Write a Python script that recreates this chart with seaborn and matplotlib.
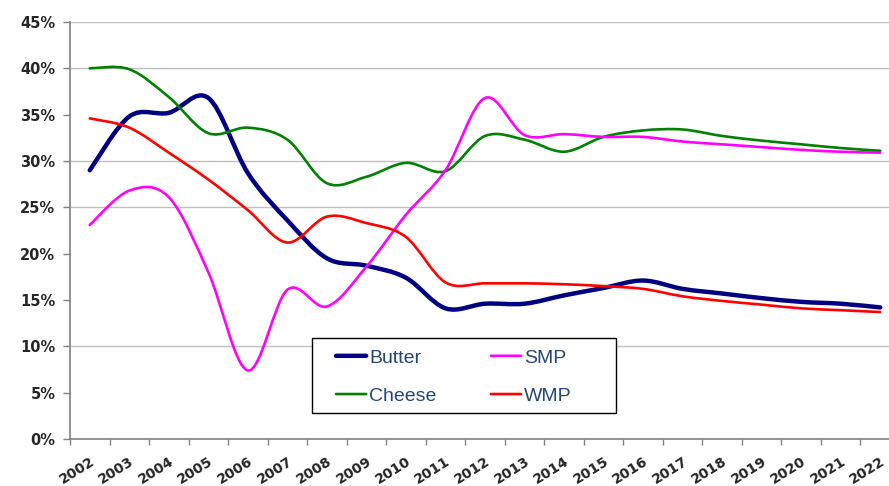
import numpy as np
import pandas as pd
import matplotlib
matplotlib.use("Agg")
import matplotlib.pyplot as plt
import seaborn as sns
from matplotlib.path import Path
from matplotlib.patches import Rectangle
from matplotlib.patheffects import AbstractPathEffect
from matplotlib.transforms import IdentityTransform
from matplotlib.ticker import FuncFormatter, FixedLocator

years = list(range(2002, 2023))

butter = [29.0, 34.8, 35.2, 36.8, 28.7, 23.6, 19.5, 18.7, 17.4, 14.1, 14.6,
          14.6, 15.5, 16.3, 17.1, 16.2, 15.7, 15.2, 14.8, 14.6, 14.2]
cheese = [40.0, 39.9, 36.9, 33.0, 33.6, 32.3, 27.6, 28.3, 29.8, 28.9, 32.7,
          32.3, 31.0, 32.6, 33.3, 33.4, 32.7, 32.2, 31.8, 31.4, 31.1]
smp = [23.1, 26.8, 26.1, 18.0, 7.4, 16.1, 14.3, 18.6, 24.2, 29.0, 36.8,
       32.8, 32.9, 32.6, 32.6, 32.1, 31.8, 31.5, 31.2, 31.0, 30.9]
wmp = [34.6, 33.6, 30.9, 28.0, 24.7, 21.2, 24.0, 23.3, 21.8, 16.9, 16.8,
       16.8, 16.7, 16.5, 16.2, 15.4, 14.9, 14.5, 14.1, 13.9, 13.7]

products = ["Butter", "Cheese", "SMP", "WMP"]
colors = {"Butter": "#000080", "Cheese": "#008000", "SMP": "#FF00FF", "WMP": "#FF0000"}
widths = {"Butter": 3.2, "Cheese": 1.9, "SMP": 1.9, "WMP": 1.9}

y_ticks = list(range(0, 50, 5))
grid_levels = [10, 25, 30, 40, 45]   # only these show up in the picture


class Smooth(AbstractPathEffect):
    """Draw a polyline as an Excel-style smoothed bezier curve."""

    def draw_path(self, renderer, gc, tpath, affine, rgbFace=None):
        pts = affine.transform(tpath.vertices)
        pts = pts[np.isfinite(pts).all(axis=1)]
        n = len(pts)
        if n < 3:
            renderer.draw_path(gc, tpath, affine, rgbFace)
            return
        verts = [pts[0]]
        codes = [Path.MOVETO]
        for i in range(n - 1):
            a = pts[i - 1] if i > 0 else pts[i]
            d = pts[i + 2] if i + 2 < n else pts[i + 1]
            verts += [pts[i] + (pts[i + 1] - a) / 6,
                      pts[i + 1] - (d - pts[i]) / 6,
                      pts[i + 1]]
            codes += [Path.CURVE4] * 3
        renderer.draw_path(gc, Path(np.array(verts), codes), IdentityTransform(), rgbFace)


df = pd.DataFrame({
    "Year": years * 4,
    "Share": butter + cheese + smp + wmp,
    "Product": sum([[p] * len(years) for p in products], []),
})

sns.set_theme(style="white")
plt.rcParams["font.family"] = ["DejaVu Sans"]

fig = plt.figure(figsize=(8.89, 4.86), dpi=100)
ax = fig.add_axes([70 / 889, 47 / 486, 830 / 889, 417 / 486])

for lvl in grid_levels:
    ax.axhline(lvl, color="#c0c0c0", lw=1, zorder=0)

sns.lineplot(data=df, x="Year", y="Share", hue="Product", hue_order=products,
             palette=colors, size="Product", sizes=widths, size_order=products,
             estimator=None, legend=False, ax=ax,
             path_effects=[Smooth()], solid_capstyle="round")

ax.set_xlim(years[0] - 0.5, years[-1] + 0.5)
ax.set_ylim(0, 45)
ax.set_xlabel("")
ax.set_ylabel("")

ax.set_yticks(y_ticks)
ax.yaxis.set_major_formatter(FuncFormatter(lambda v, _: f"{v:.0f}%"))
ax.tick_params(axis="y", left=True, length=5, width=1, color="#808080",
               pad=5.5, labelsize=10.5)

ax.set_xticks(years)
ax.set_xticklabels([str(y) for y in years], rotation=32, ha="right",
                   rotation_mode="anchor")
ax.xaxis.set_minor_locator(FixedLocator([y - 0.5 for y in years] + [years[-1] + 0.5]))
ax.tick_params(axis="x", which="major", bottom=True, length=0, pad=11, labelsize=10)
ax.tick_params(axis="x", which="minor", bottom=True, length=4, width=1, color="#808080")

for lab in ax.get_xticklabels() + ax.get_yticklabels():
    lab.set_fontweight("bold")

for side in ["top", "right"]:
    ax.spines[side].set_visible(False)
for side in ["left", "bottom"]:
    ax.spines[side].set_color("#808080")
    ax.spines[side].set_linewidth(1.2)

# legend box drawn separately so the padding matches the original
ax.add_patch(Rectangle((0.2916, 0.0624), 0.3663, 0.1799, transform=ax.transAxes,
                       facecolor="white", edgecolor="black", lw=1, zorder=5))
handles = ax.get_lines()[len(grid_levels):]
leg = ax.legend(handles, products, ncol=2, loc="upper left",
                bbox_to_anchor=(0.3205, 0.2158), frameon=False,
                borderpad=0, borderaxespad=0, handlelength=1.55,
                handletextpad=0.15, columnspacing=2.8, labelspacing=1.06,
                prop={"family": "Liberation Sans", "size": 14})
leg.set_zorder(6)
for t in leg.get_texts():
    t.set_color("#244673")

fig.savefig("out.png", dpi=100)
